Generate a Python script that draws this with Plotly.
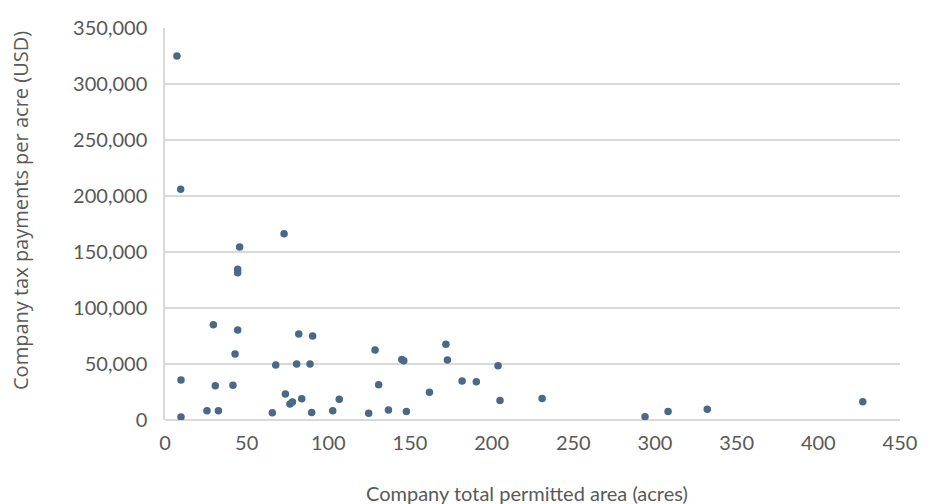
import plotly.graph_objects as go

area_acres = [7.3, 9.6, 9.8, 9.8, 25.7, 32.7, 30.8, 29.6, 41.6, 42.9, 44.5, 44.5, 44.5, 45.7,
              72.9, 67.8, 80.6, 88.8, 81.9, 90.4, 73.7, 76.5, 78.0, 83.7, 65.7, 89.8, 102.7, 106.7,
              128.6, 145.0, 146.2, 172.0, 172.9, 203.9, 130.8, 161.9, 181.9, 190.6, 205.1, 230.9,
              124.7, 136.8, 147.8, 293.9, 308.0, 332.0, 427.2]
tax_per_acre = [325000, 206000, 35700, 2700, 8300, 8300, 30600, 85000, 31000, 59000, 80400, 134500, 131500, 154500,
                166400, 49000, 50000, 50000, 76800, 75000, 23200, 14300, 16000, 19000, 6500, 6800, 8300, 18500,
                62500, 54000, 53000, 67600, 53600, 48500, 31500, 24700, 34800, 34200, 17300, 19300,
                6000, 8900, 7700, 3000, 7700, 9500, 16400]

x_ticks = [0, 50, 100, 150, 200, 250, 300, 350, 400, 450]
y_ticks = [0, 50000, 100000, 150000, 200000, 250000, 300000, 350000]
x_title = "Company total permitted area (acres)"
y_title = "Company tax payments per acre (USD)"

FONT = "Lato"
GREY = "#595959"
GRID = "#d9d9d9"

# Page body adds an 8px offset; figure is sized so it fits the 928x504 window.
W, H = 920, 496

fig = go.Figure(go.Scatter(
    x=area_acres, y=tax_per_acre, mode="markers",
    marker=dict(color="#4a6985", size=7.5, line=dict(width=0)),
    hoverinfo="x+y",
))

fig.update_layout(
    width=W, height=H,
    margin=dict(l=157, r=28, t=20, b=84, autoexpand=False),
    paper_bgcolor="white", plot_bgcolor="white",
    showlegend=False,
    font=dict(family=FONT, color=GREY, size=20),
    xaxis=dict(range=[0, 450], tickvals=x_ticks, showgrid=False, zeroline=False,
               showline=False, ticks="outside", ticklen=5, tickcolor="rgba(0,0,0,0)",
               tickfont=dict(size=20, color=GREY)),
    yaxis=dict(range=[0, 350000], tickvals=y_ticks, tickformat=",d", showgrid=True,
               gridcolor=GRID, gridwidth=1.5, zeroline=True, zerolinecolor=GRID,
               zerolinewidth=1.5, showline=True, linecolor=GRID, linewidth=1.5,
               ticks="outside", ticklen=12, tickcolor="rgba(0,0,0,0)",
               tickfont=dict(size=20, color=GREY)),
    annotations=[
        dict(text=x_title, xref="paper", yref="paper", x=0.493, y=-(485 - 412) / 392,
             xanchor="center", yanchor="middle", showarrow=False,
             font=dict(size=20, color=GREY, family=FONT)),
        dict(text=y_title, xref="paper", yref="paper", x=-(157 - 12) / 735, y=(412 - 203) / 392,
             xanchor="center", yanchor="middle", textangle=-90, showarrow=False,
             font=dict(size=20, color=GREY, family="Open Sans")),
    ],
)

fig.write_html("out.html")
